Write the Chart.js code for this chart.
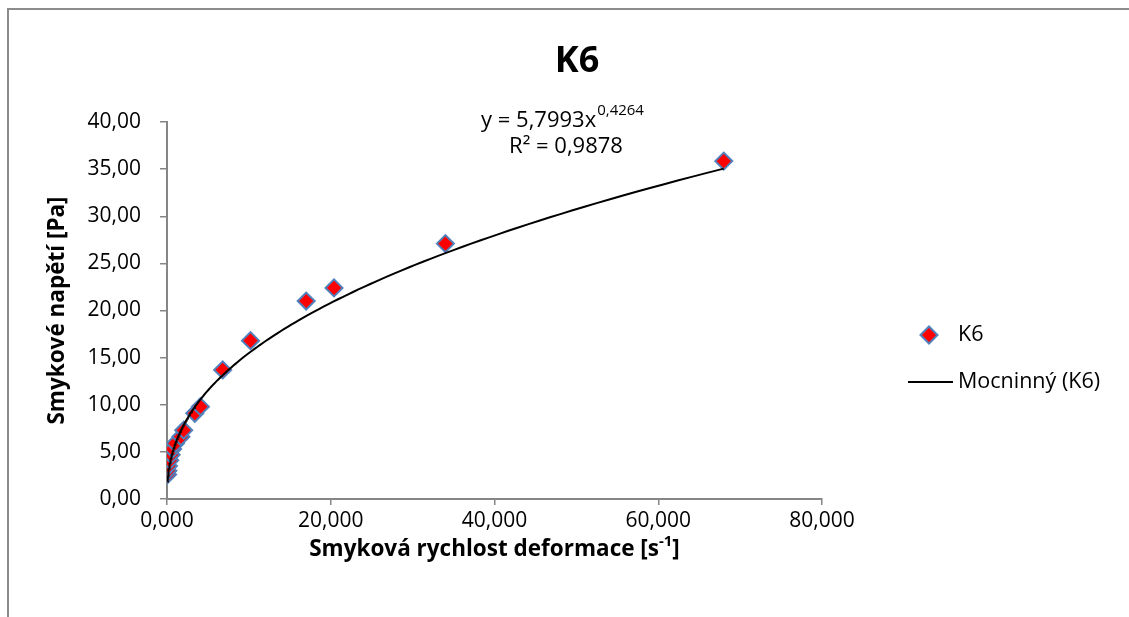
<!DOCTYPE html>
<html>
<head>
<meta charset="utf-8">
<script src="https://cdn.jsdelivr.net/npm/chart.js@4/dist/chart.umd.min.js"></script>
<style>
  html, body { margin: 0; padding: 0; background: #ffffff; }
  #wrap { width: 1129px; height: 617px; position: relative; }
</style>
</head>
<body>
<div id="wrap"><canvas id="chart" width="1129" height="617"></canvas></div>
<script>
// Measured shear rate [1/s] and shear stress [Pa] for sample K6
const shearRate   = [0.068, 0.102, 0.17, 0.34, 0.51, 0.68, 1.02, 1.7, 2.04, 3.4, 4.08, 6.8, 10.2, 17, 20.4, 34, 68];
const shearStress = [2.6, 3.0, 3.5, 4.1, 4.7, 5.3, 5.9, 6.6, 7.3, 9.1, 9.8, 13.7, 16.8, 21.0, 22.4, 27.1, 35.85];

// Axis ticks
const xTickValues = [0, 20, 40, 60, 80];
const yTickValues = [0, 5, 10, 15, 20, 25, 30, 35, 40];

// Power-law trendline y = a * x^b
const fitA = 5.7993;
const fitB = 0.4264;
const fitR2 = 0.9878;

const seriesName = 'K6';
const trendName = 'Mocninný (K6)';
const chartTitle = 'K6';
const xTitle = 'Smyková rychlost deformace [s';
const xTitleSup = '-1';
const yTitle = 'Smykové napětí [Pa]';

const FONT = '"Open Sans", "Liberation Sans", sans-serif';
const AXIS_GREY = '#868686';
const MARKER_FILL = '#ff0000';
const MARKER_EDGE = '#4f81bd';

const points = shearRate.map((x, i) => ({ x: x, y: shearStress[i] }));

// trendline sampled between the smallest and largest measured rate
const xMin = Math.min(...shearRate), xMax = Math.max(...shearRate);
const trend = [];
const N = 240;
for (let i = 0; i <= N; i++) {
  const x = Math.exp(Math.log(xMin) + (Math.log(xMax) - Math.log(xMin)) * i / N);
  trend.push({ x: x, y: fitA * Math.pow(x, fitB) });
}

const fmt = (v, d) => v.toFixed(d).replace('.', ',');

const decorPlugin = {
  id: 'decor',
  beforeDraw(chart) {
    const ctx = chart.ctx;
    ctx.save();
    ctx.fillStyle = '#ffffff';
    ctx.fillRect(0, 0, chart.width, chart.height);
    // outer chart frame
    ctx.strokeStyle = '#8c8c8c';
    ctx.lineWidth = 2;
    ctx.beginPath();
    ctx.moveTo(8, chart.height + 2);
    ctx.lineTo(8, 9);
    ctx.lineTo(chart.width + 2, 9);
    ctx.stroke();
    ctx.restore();
  },
  afterDraw(chart) {
    const ctx = chart.ctx;
    const area = chart.chartArea;
    ctx.save();
    ctx.fillStyle = '#000000';
    ctx.textBaseline = 'middle';

    // title
    ctx.font = 'bold 36px ' + FONT;
    ctx.textAlign = 'center';
    ctx.fillText(chartTitle, 577, 62);

    // trendline equation
    const base = 'y = ' + fmt(fitA, 4) + 'x';
    const sup = fmt(fitB, 4);
    ctx.font = '22px ' + FONT;
    const wBase = ctx.measureText(base).width;
    ctx.font = '15px ' + FONT;
    const wSup = ctx.measureText(sup).width;
    const eqLeft = 562 - (wBase + wSup) / 2;
    ctx.textAlign = 'left';
    ctx.font = '22px ' + FONT;
    ctx.fillText(base, eqLeft, 121);
    ctx.font = '15px ' + FONT;
    ctx.fillText(sup, eqLeft + wBase + 1, 111);
    ctx.font = '22px ' + FONT;
    ctx.textAlign = 'center';
    ctx.fillText('R² = ' + fmt(fitR2, 4), 566, 147);

    // axis titles
    ctx.font = 'bold 22.5px ' + FONT;
    const wx = ctx.measureText(xTitle).width;
    const wClose = ctx.measureText(']').width;
    ctx.font = 'bold 15px ' + FONT;
    const wxs = ctx.measureText(xTitleSup).width;
    const cx = (area.left + area.right) / 2;
    const tx = cx - (wx + wxs + wClose) / 2;
    const ty = 550;
    ctx.textAlign = 'left';
    ctx.font = 'bold 22.5px ' + FONT;
    ctx.fillText(xTitle, tx, ty);
    ctx.font = 'bold 15px ' + FONT;
    ctx.fillText(xTitleSup, tx + wx, ty - 8);
    ctx.font = 'bold 22.5px ' + FONT;
    ctx.fillText(']', tx + wx + wxs, ty);

    ctx.save();
    ctx.translate(58, (area.top + area.bottom) / 2);
    ctx.rotate(-Math.PI / 2);
    ctx.textAlign = 'center';
    ctx.font = 'bold 22.5px ' + FONT;
    ctx.fillText(yTitle, 0, 0);
    ctx.restore();

    // legend
    const ds0 = chart.data.datasets[0];
    const ds1 = chart.data.datasets[1];
    const mx = 929, my = 335, r = 8.5;
    ctx.beginPath();
    ctx.moveTo(mx - r, my); ctx.lineTo(mx, my - r); ctx.lineTo(mx + r, my); ctx.lineTo(mx, my + r);
    ctx.closePath();
    ctx.fillStyle = ds0.backgroundColor;
    ctx.fill();
    ctx.strokeStyle = ds0.borderColor;
    ctx.lineWidth = ds0.borderWidth;
    ctx.stroke();
    ctx.beginPath();
    ctx.moveTo(908, 382); ctx.lineTo(953, 382);
    ctx.strokeStyle = ds1.borderColor;
    ctx.lineWidth = ds1.borderWidth;
    ctx.stroke();
    ctx.fillStyle = '#000000';
    ctx.font = '21.5px ' + FONT;
    ctx.textAlign = 'left';
    ctx.fillText(ds0.label, 958, my);
    ctx.fillText(ds1.label, 958, 382);
    ctx.restore();
  }
};

new Chart(document.getElementById('chart'), {
  type: 'scatter',
  data: {
    datasets: [
      {
        label: seriesName,
        data: points,
        pointStyle: 'rectRot',
        pointRadius: 8.5,
        pointHoverRadius: 8.5,
        backgroundColor: MARKER_FILL,
        borderColor: MARKER_EDGE,
        borderWidth: 2,
        showLine: false,
        order: 1
      },
      {
        label: trendName,
        data: trend,
        type: 'line',
        showLine: true,
        borderColor: '#000000',
        borderWidth: 2,
        pointRadius: 0,
        fill: false,
        tension: 0,
        order: 0
      }
    ]
  },
  options: {
    responsive: false,
    animation: false,
    events: [],
    layout: { padding: { left: 0, right: 307, top: 122, bottom: 58 } },
    plugins: {
      legend: { display: false },
      title: { display: false },
      tooltip: { enabled: false }
    },
    scales: {
      x: {
        type: 'linear',
        min: 0,
        max: 80,
        afterBuildTicks: (s) => { s.ticks = xTickValues.map(v => ({ value: v })); },
        afterFit: (s) => { s.height = 60; },
        grid: { display: true, drawOnChartArea: false, drawTicks: true, tickLength: 6, color: AXIS_GREY, lineWidth: 1.5 },
        border: { display: true, color: AXIS_GREY, width: 2 },
        ticks: {
          color: '#000000',
          font: { family: FONT, size: 21 },
          padding: 3,
          maxRotation: 0,
          callback: (v) => fmt(v, 3)
        }
      },
      y: {
        type: 'linear',
        min: 0,
        max: 40,
        afterBuildTicks: (s) => { s.ticks = yTickValues.map(v => ({ value: v })); },
        afterFit: (s) => { s.width = 167; },
        grid: { display: true, drawOnChartArea: false, drawTicks: true, tickLength: 7, color: AXIS_GREY, lineWidth: 1.5 },
        border: { display: true, color: AXIS_GREY, width: 2 },
        ticks: {
          color: '#000000',
          font: { family: FONT, size: 21 },
          padding: 19,
          callback: (v) => fmt(v, 2)
        }
      }
    }
  },
  plugins: [decorPlugin]
});
</script>
</body>
</html>
